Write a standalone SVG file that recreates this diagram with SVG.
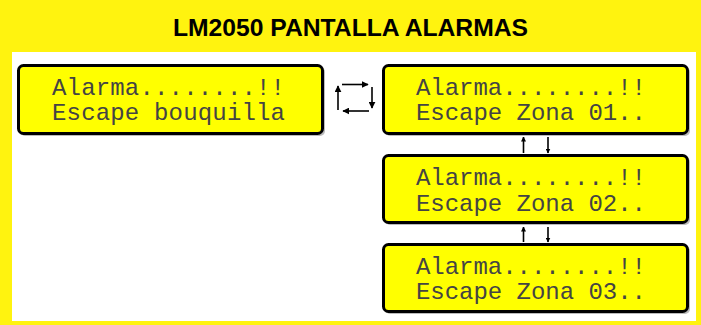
<svg xmlns="http://www.w3.org/2000/svg" width="701" height="325" viewBox="0 0 701 325">
<style>
.lcd{fill:#ffff00;stroke:#000;stroke-width:3}
.sh{fill:#bbb}
.t{font-family:"Liberation Mono",monospace;font-size:24px;fill:#444}
.c{stroke:#000;stroke-width:1.6;fill:none}
</style>
<defs>
<marker id="ah" viewBox="0 0 10 10" refX="9" refY="5" markerWidth="5" markerHeight="5" orient="auto" markerUnits="userSpaceOnUse"><path d="M0,0 L10,5 L0,10 z" fill="#000"/></marker>
<marker id="as" viewBox="0 0 10 10" refX="9" refY="5" markerWidth="7" markerHeight="7" orient="auto" markerUnits="userSpaceOnUse"><path d="M0,0 L10,5 L0,10 z" fill="#000"/></marker>
</defs>
<rect x="0" y="0" width="701" height="325" fill="#fff30f"/>
<rect x="12" y="52" width="684" height="269" fill="#fff"/>
<text x="350.5" y="36" text-anchor="middle" font-family="'Liberation Sans',Arial,sans-serif" font-weight="bold" font-size="24" textLength="355" lengthAdjust="spacingAndGlyphs" fill="#000">LM2050 PANTALLA ALARMAS</text>

<g id="screen-bouquilla">
<rect class="sh" x="20" y="67" width="305" height="69" rx="5"/>
<rect class="lcd" x="18.5" y="65.5" width="304" height="68" rx="5"/>
<text class="t" x="52" y="95" textLength="233">Alarma........!!</text>
<text class="t" x="52" y="120" textLength="233">Escape bouquilla</text>
</g>
<g id="screen-zona01">
<rect class="sh" x="385" y="67" width="305" height="69" rx="5"/>
<rect class="lcd" x="383.5" y="65.5" width="304" height="68" rx="5"/>
<text class="t" x="416" y="95" textLength="230">Alarma........!!</text>
<text class="t" x="416" y="120" textLength="230">Escape Zona 01..</text>
</g>
<g id="screen-zona02">
<rect class="sh" x="385" y="157" width="305" height="68" rx="5"/>
<rect class="lcd" x="383.5" y="155.5" width="304" height="67" rx="5"/>
<text class="t" x="416" y="185" textLength="230">Alarma........!!</text>
<text class="t" x="416" y="211" textLength="230">Escape Zona 02..</text>
</g>
<g id="screen-zona03">
<rect class="sh" x="385" y="246" width="305" height="68" rx="5"/>
<rect class="lcd" x="383.5" y="244.5" width="304" height="67" rx="5"/>
<text class="t" x="416" y="274" textLength="230">Alarma........!!</text>
<text class="t" x="416" y="299" textLength="230">Escape Zona 03..</text>
</g>

<g id="connectors">
<line class="c" x1="338" y1="110" x2="338" y2="86" marker-end="url(#as)"/>
<line class="c" x1="342" y1="84.5" x2="368" y2="84.5" marker-end="url(#as)"/>
<line class="c" x1="372" y1="87" x2="372" y2="108" marker-end="url(#as)"/>
<line class="c" x1="369" y1="111" x2="343" y2="111" marker-end="url(#as)"/>
<line class="c" x1="523.5" y1="153" x2="523.5" y2="137" marker-end="url(#ah)"/>
<line class="c" x1="548" y1="137" x2="548" y2="153" marker-end="url(#ah)"/>
<line class="c" x1="523.5" y1="242" x2="523.5" y2="227" marker-end="url(#ah)"/>
<line class="c" x1="548" y1="227" x2="548" y2="242" marker-end="url(#ah)"/>
</g>
</svg>
